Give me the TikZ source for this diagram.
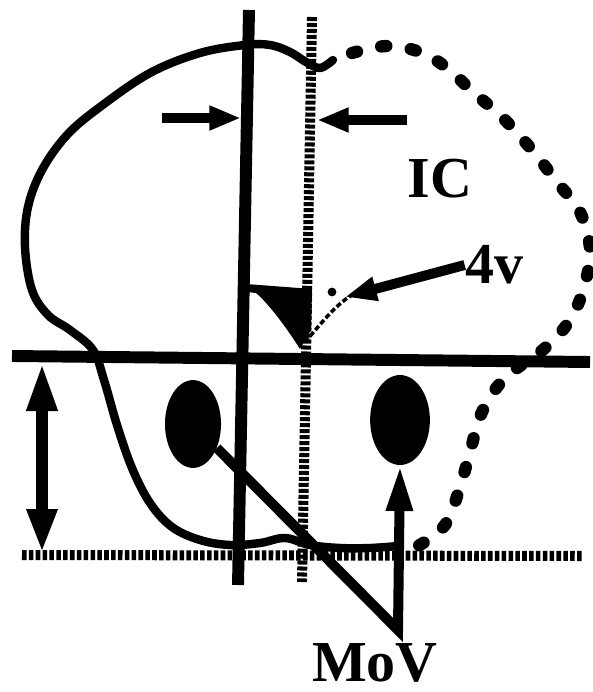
\documentclass[tikz,border=0pt]{standalone}
\usepackage{fontspec}
\setmainfont{Liberation Serif}
\usetikzlibrary{arrows.meta,shapes.geometric}

\tikzset{
  heavy/.style={line width=6.8pt},
  shaft/.style={line width=5.7pt},
  rim/.style={line width=4.8pt, line cap=round, line join=round},
  rimdots/.style={line width=7pt, line cap=round, dash pattern=on 3pt off 14pt},
  vdots/.style={line width=5.7pt, dash pattern=on 2.3pt off 1.1pt},
  hdots/.style={line width=5.7pt, dash pattern=on 2.6pt off 1.3pt},
  tip/.style={-{Triangle[length=18pt,width=13pt]}},
  nucleus/.style={ellipse, fill=black, inner sep=0pt},
  lettering/.style={font=\fontsize{33}{37}\selectfont\bfseries, inner sep=0pt},
}

\begin{document}
\begin{tikzpicture}[x=0.02cm, y=-0.02cm]
  \useasboundingbox (0,0) rectangle (592,692);
  % Coordinates
  \coordinate (A) at (249,10);
  \coordinate (B) at (238,585);
  \coordinate (C) at (312,17);
  \coordinate (D) at (302,582);
  \coordinate (E) at (12,356);
  \coordinate (F) at (590,362);
  \coordinate (G) at (22,555);
  \coordinate (H) at (582,556);
  \coordinate (I) at (42,362);
  \coordinate (J) at (42,553);
  \coordinate (K) at (162,118);
  \coordinate (L) at (241,118);
  \coordinate (M) at (407,120);
  \coordinate (N) at (317,120);
  \coordinate (P) at (345,297);
  \coordinate (R) at (398,630);

  % Outline
  \draw[rim] plot[smooth, tension=0.6] coordinates {(333,60) (320,68) (306,62)
    (290,52) (270,45) (245,45) (200,53) (150,73) (100,107) (67,135) (42,170)
    (28,207) (25,247) (32,290) (48,315) (70,330) (93,350) (104,380) (117,425)
    (132,468) (150,503) (172,527) (200,540) (230,545) (260,543) (285,538)
    (310,545) (340,548) (370,548) (398,546)};
  \draw[rimdots] plot[smooth, tension=0.6] coordinates {(352,53) (387,46)
    (420,52) (447,68) (473,92) (502,117) (532,150) (557,182) (580,212)
    (590,250) (584,287) (570,320) (545,348) (505,378) (482,412) (470,452)
    (460,487) (445,525) (418,546)};

  % Fourth ventricle
  \fill (246,284) -- (312,289) -- (311,330) -- (300,349)
    .. controls (288,330) and (270,305) .. (256,293) -- (238,291) -- cycle;
  \draw[line width=2pt, dash pattern=on 3pt off 1.5pt]
    (305,342) .. controls (320,325) and (335,305) .. (352,295);
  \fill (332,292) circle (2.5pt);

  % Lines
  \draw[heavy] (A) -- (B);
  \draw[vdots] (C) -- (D);
  \draw[heavy] (E) -- (F);
  \draw[hdots] (G) -- (H);
  \draw[line width=6.8pt, {Triangle[length=28pt,width=16pt]}-{Triangle[length=25pt,width=16pt]}] (I) -- (J);
  \draw[shaft, tip] (K) -- (L);
  \draw[shaft, tip] (M) -- (N);

  % Nuclei and labels
  \node[nucleus, minimum width=31.9pt, minimum height=50pt] (lnuc) at (193,424) {};
  \node[nucleus, minimum width=34pt, minimum height=51.2pt] (rnuc) at (400,420) {};
  \node[lettering] (IC) at (440,179) {IC};
  \node[lettering] (fourv) at (494,265) {4v};
  \node[lettering] (MoV) at (375,663) {MoV};

  \draw[shaft, tip] (fourv.west) -- (P);
  \draw[shaft, line join=miter, -{Triangle[length=26pt,width=14pt]}] (lnuc) -- (R) -- (rnuc.south);
\end{tikzpicture}
\end{document}
